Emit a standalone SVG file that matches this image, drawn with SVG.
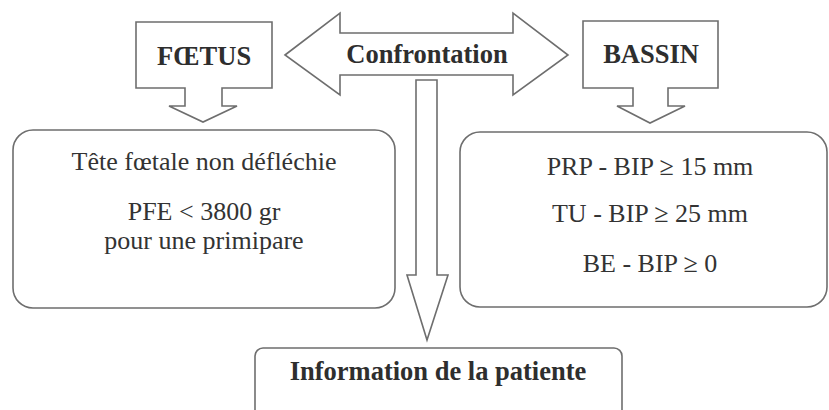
<svg xmlns="http://www.w3.org/2000/svg" width="829" height="410" viewBox="0 0 829 410">
<style>
.sh{fill:#fff;stroke:#6e6e6e;stroke-width:1.6;stroke-linejoin:miter}
.b{font-family:'Liberation Serif','Times New Roman',serif;font-weight:bold;font-size:26.5px;fill:#2e2e2e;text-anchor:middle}
.r{font-family:'Liberation Serif','Times New Roman',serif;font-size:26px;fill:#333;text-anchor:middle}
</style>
<rect width="829" height="410" fill="#fff"/>
<g id="connectors">
<polygon id="confrontation-arrow" class="sh" points="285,55 340,13 340,33 513,33 513,13 568,55 513,95 513,75 340,75 340,95"/>
<polygon id="down-arrow" class="sh" points="416,80 437,80 437,275 448,275 427,340 407,275 416,275"/>
</g>
<g id="confrontation"><text class="b" x="427" y="63">Confrontation</text></g>
<g id="foetus">
<polygon class="sh" points="136,22 272,22 272,88 222,88 222,106 237,106 203,122 169,106 185,106 185,88 136,88"/>
<text class="b" x="204" y="65">FŒTUS</text>
</g>
<g id="bassin">
<polygon class="sh" points="583,21 718,21 718,88 668,88 668,106 685,106 650,123 617,106 633,106 633,88 583,88"/>
<text class="b" x="651" y="63">BASSIN</text>
</g>
<g id="foetus-criteria">
<rect class="sh" x="13" y="130" width="382" height="178" rx="20"/>
<text class="r" x="204" y="170">Tête fœtale non défléchie</text>
<text class="r" x="204" y="220">PFE &lt; 3800 gr</text>
<text class="r" x="204" y="249">pour une primipare</text>
</g>
<g id="bassin-criteria">
<rect class="sh" x="460" y="132" width="367" height="175" rx="20"/>
<text class="r" x="650" y="175">PRP - BIP ≥ 15 mm</text>
<text class="r" x="650" y="222">TU - BIP ≥ 25 mm</text>
<text class="r" x="650" y="272">BE - BIP ≥ 0</text>
</g>
<g id="information">
<rect class="sh" x="255" y="348" width="367" height="90" rx="8"/>
<text class="b" x="438" y="380">Information de la patiente</text>
</g>
</svg>
